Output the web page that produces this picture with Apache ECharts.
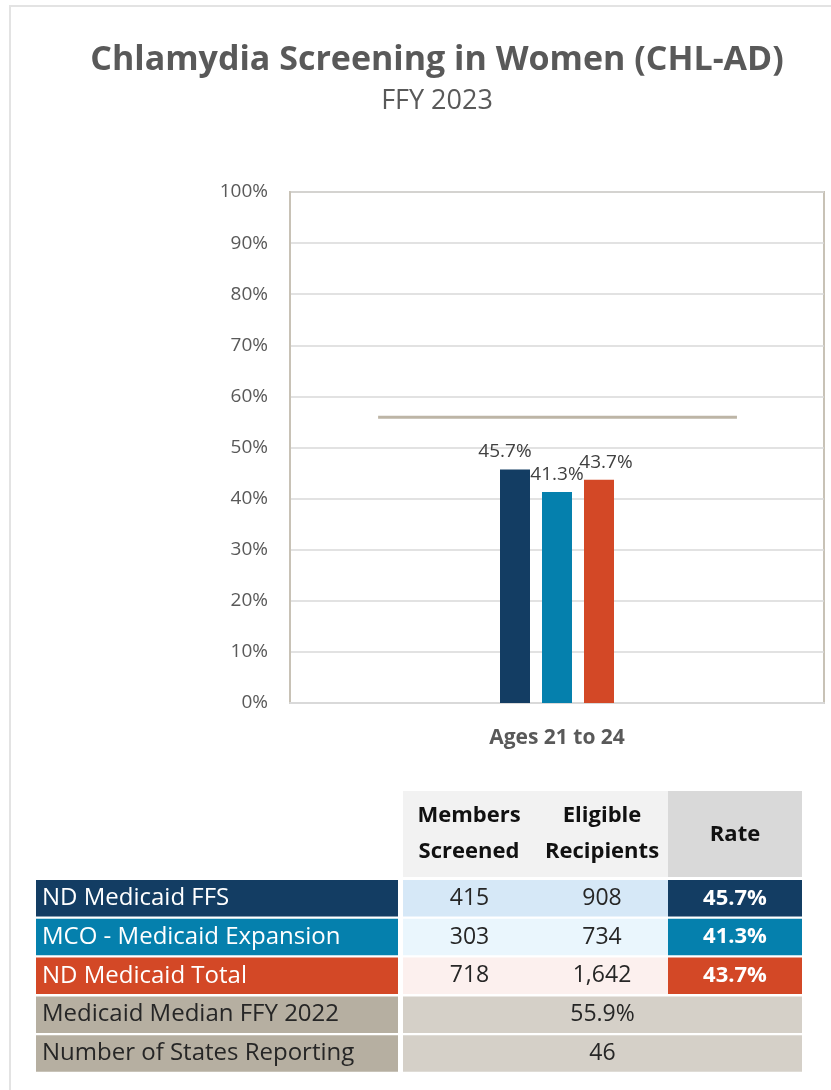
<!DOCTYPE html>
<html>
<head>
<meta charset="utf-8">
<title>Chlamydia Screening in Women (CHL-AD)</title>
<script src="https://cdn.jsdelivr.net/npm/echarts@6/dist/echarts.min.js"></script>
<style>
  html, body { margin: 0; padding: 0; background: #fff; }
  #chart { width: 831px; height: 1090px; }
</style>
</head>
<body>
<div id="chart"></div>
<script>
// chart data
const categories = ['Ages 21 to 24']
const seriesNames = ['ND Medicaid FFS', 'MCO - Medicaid Expansion', 'ND Medicaid Total']
const rates = [45.7, 41.3, 43.7]
const medianRate = 55.9
const yTicks = [0, 10, 20, 30, 40, 50, 60, 70, 80, 90, 100]

// table data
const membersScreened = ['415', '303', '718']
const eligibleRecipients = ['908', '734', '1,642']
const medianLabel = 'Medicaid Median FFY 2022'
const statesLabel = 'Number of States Reporting'
const statesReporting = '46'

const colors = ['#133d63', '#0580ad', '#d34826']
const lightColors = ['#d6e8f7', '#eaf6fd', '#fcf0ee']
const FONT = '"Open Sans", "Noto Sans", sans-serif'

// median line spans part of the category band (layout, not data)
const medianSpan = [0.165, 0.837]
// data labels are nudged apart like in the original
const labelOffsets = [[-10, 0], [0, 0], [7, 0]]

const chart = echarts.init(document.getElementById('chart'))

function buildTable() {
  const els = []
  const colX = [36, 403, 536, 668]
  const colR = [398, 536, 668, 802]
  const rowTop0 = 880
  const rowStep = 38.8
  const rowH = 36.5
  const txt = (x, y, text, fill, weight, size) => ({
    type: 'text',
    x: x, y: y,
    style: {
      text: text, fill: fill,
      font: (weight || 'normal') + ' ' + (size || 23) + 'px ' + FONT,
      align: 'center', verticalAlign: 'middle',
      textAlign: 'center', textVerticalAlign: 'middle'
    }
  })
  const rect = (x, y, w, h, fill) => ({
    type: 'rect', shape: { x: x, y: y, width: w, height: h }, style: { fill: fill }
  })
  const leftTxt = (y, text, fill) => ({
    type: 'text', x: 42, y: y,
    style: { text: text, fill: fill, font: '24px ' + FONT, verticalAlign: 'middle', textVerticalAlign: 'middle' }
  })
  // header
  els.push(rect(403, 791, 265, 86, '#f2f2f2'))
  els.push(rect(668, 791, 134, 86, '#d9d9d9'))
  els.push(txt(469, 816, 'Members', '#111', 'bold', 22))
  els.push(txt(469, 852, 'Screened', '#111', 'bold', 22))
  els.push(txt(602, 816, 'Eligible', '#111', 'bold', 22))
  els.push(txt(602, 852, 'Recipients', '#111', 'bold', 22))
  els.push(txt(735, 835, 'Rate', '#111', 'bold', 22))

  seriesNames.forEach((name, i) => {
    const y = rowTop0 + i * rowStep
    const cy = y + rowH / 2
    els.push(rect(colX[0], y, colR[0] - colX[0], rowH, colors[i]))
    els.push(rect(colX[1], y, colX[3] - colX[1], rowH, lightColors[i]))
    els.push(rect(colX[3], y, colR[3] - colX[3], rowH, colors[i]))
    els.push(leftTxt(cy, name, '#fff'))
    els.push(txt((colX[1] + colR[1]) / 2, cy, membersScreened[i], '#262626'))
    els.push(txt((colX[2] + colR[2]) / 2, cy, eligibleRecipients[i], '#262626'))
    els.push(txt((colX[3] + colR[3]) / 2, cy, rates[i].toFixed(1) + '%', '#fff', 'bold', 22))
  })

  ;[[medianLabel, medianRate.toFixed(1) + '%'], [statesLabel, statesReporting]].forEach((r, j) => {
    const y = rowTop0 + (3 + j) * rowStep
    const cy = y + rowH / 2
    els.push(rect(colX[0], y, colR[0] - colX[0], rowH, '#b6afa1'))
    els.push(rect(colX[1], y, colR[3] - colX[1], rowH, '#d5d0c8'))
    els.push(leftTxt(cy, r[0], '#262626'))
    els.push(txt((colX[1] + colR[3]) / 2, cy, r[1], '#262626'))
  })
  return els
}

const barSeries = seriesNames.map((name, i) => ({
  name: name,
  type: 'bar',
  data: [rates[i]],
  barWidth: 30,
  barGap: '40%',
  itemStyle: { color: colors[i] },
  label: {
    show: true,
    position: 'top',
    distance: 8,
    offset: labelOffsets[i],
    formatter: '{c}%',
    color: '#404040',
    fontSize: 19,
    fontFamily: FONT
  }
}))

chart.setOption({
  animation: false,
  title: [{
    text: 'Chlamydia Screening in Women (CHL-AD)',
    left: 437,
    top: 43,
    textAlign: 'center',
    padding: 0,
    textStyle: { fontFamily: FONT, fontSize: 34, fontWeight: 'bold', color: '#595959' }
  }, {
    text: 'FFY 2023',
    left: 437,
    top: 88,
    textAlign: 'center',
    padding: 0,
    textStyle: { fontFamily: FONT, fontSize: 27, fontWeight: 'normal', color: '#595959' }
  }],
  grid: {
    left: 290, right: 7, top: 192, bottom: 387,
    show: true,
    borderColor: '#c8c2b6',
    borderWidth: 2,
    backgroundColor: 'transparent'
  },
  xAxis: [{
    type: 'category',
    data: categories,
    axisTick: { show: false },
    axisLine: { lineStyle: { color: '#d9d9d9', width: 2 } },
    axisLabel: { color: '#595959', fontSize: 21, fontWeight: 'bold', fontFamily: FONT, margin: 25 }
  }, {
    type: 'value',
    min: 0, max: 1,
    show: false
  }],
  yAxis: {
    type: 'value',
    min: yTicks[0],
    max: yTicks[yTicks.length - 1],
    interval: yTicks[1] - yTicks[0],
    axisLine: { show: true, lineStyle: { color: '#c8c2b6', width: 2 } },
    axisTick: { show: false },
    splitLine: { lineStyle: { color: '#d9d9d9', width: 1.5 } },
    axisLabel: { formatter: '{value}%', color: '#595959', fontSize: 19, fontFamily: FONT, margin: 22 }
  },
  series: barSeries.concat([{
    name: medianLabel,
    type: 'line',
    xAxisIndex: 1,
    data: [[medianSpan[0], medianRate], [medianSpan[1], medianRate]],
    symbol: 'none',
    lineStyle: { color: '#bdb5a6', width: 3 },
    silent: true,
    z: 1
  }]),
  graphic: [{
    type: 'rect',
    shape: { x: 10, y: 6, width: 900, height: 1200 },
    style: { fill: 'none', stroke: '#e3e3e3', lineWidth: 2 },
    silent: true
  }].concat(buildTable())
})
</script>
</body>
</html>
